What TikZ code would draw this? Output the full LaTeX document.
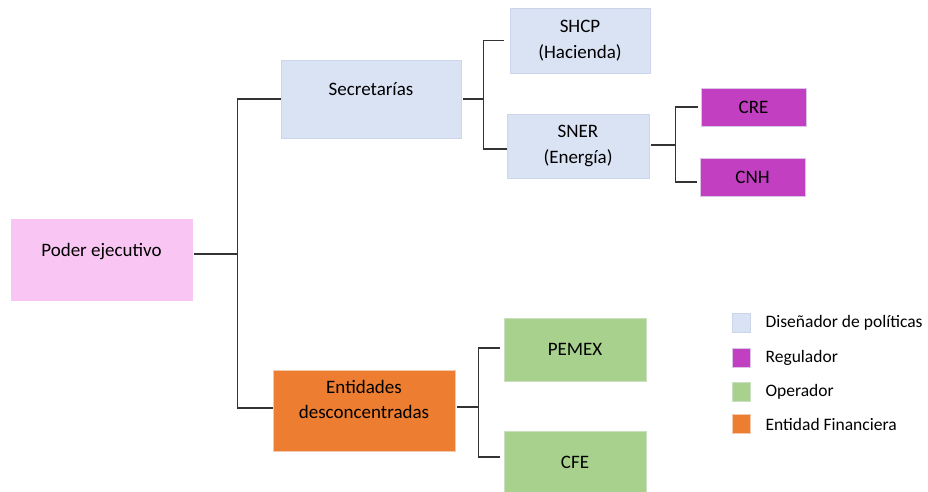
\documentclass[tikz,border=0pt]{standalone}
\usepackage{fontspec}
\setmainfont{Carlito}
\usepackage{tikz}
\usetikzlibrary{positioning,calc}
\definecolor{palDesign}{HTML}{DAE3F3}
\definecolor{palDesignBd}{HTML}{CCD6EA}
\definecolor{palReg}{HTML}{C13FC0}
\definecolor{palRegBd}{HTML}{D9C6E6}
\definecolor{palOper}{HTML}{A9D18E}
\definecolor{palOperBd}{HTML}{C9DFC0}
\definecolor{palFin}{HTML}{ED7D31}
\definecolor{palFinBd}{HTML}{F2C9AE}
\definecolor{palExec}{HTML}{F9C6F3}
\definecolor{palLine}{HTML}{333333}
\tikzset{
  orgbox/.style={draw, line width=0.8pt, align=center, inner sep=2pt,
                 font=\fontsize{19}{25.5}\selectfont},
  designbox/.style={orgbox, fill=palDesign, draw=palDesignBd},
  regbox/.style={orgbox, fill=palReg, draw=palRegBd},
  operbox/.style={orgbox, fill=palOper, draw=palOperBd},
  finbox/.style={orgbox, fill=palFin, draw=palFinBd},
  execbox/.style={orgbox, fill=palExec, draw=palExec},
  keybox/.style={draw, line width=0.8pt, minimum width=18pt, minimum height=19pt,
                 inner sep=0pt},
  keylabel/.style={anchor=west, inner sep=0pt, font=\fontsize{17.5}{21}\selectfont},
  link/.style={line width=1.2pt, palLine},
}
\begin{document}
\begin{tikzpicture}[x=1pt, y=-1pt]
\useasboundingbox (0,0) rectangle (928,491);

%% Boxes
\node[execbox, minimum width=181pt, minimum height=81pt, text depth=19pt] (poder) at (101.5,259.5) {Poder ejecutivo};
\node[designbox, minimum width=180pt, minimum height=78pt, text depth=20pt] (secre) at (371,99) {Secretarías};
\node[finbox, minimum width=182pt, minimum height=81pt, text depth=22pt] (entid) at (364,410.5) {Entidades\\desconcentradas};
\node[designbox, minimum width=140pt, minimum height=65pt] (shcp) at (580,40.5) {SHCP\\(Hacienda)};
\node[designbox, minimum width=142pt, minimum height=64pt] (sner) at (578,146) {SNER\\(Energía)};
\node[regbox, minimum width=105pt, minimum height=38pt] (cre) at (753.5,107) {CRE};
\node[regbox, minimum width=105pt, minimum height=38pt] (cnh) at (752.5,177) {CNH};
\node[operbox, minimum width=142pt, minimum height=63pt] (pemex) at (575,349.5) {PEMEX};
\node[operbox, minimum width=142pt, minimum height=62pt] (cfe) at (575,462) {CFE};

%% Connectors (elbows through a junction)
\draw[link, shorten <=2pt] ([yshift=5.5pt]poder.east) -- ++(45,0) coordinate (jPoder);
\draw[link] (jPoder) |- (secre.west);
\draw[link] (jPoder) |- ([yshift=2.5pt]entid.west);

\draw[link, shorten <=2pt] (secre.east) -- ++(22,0) coordinate (jSecre);
\draw[link, shorten >=6pt] (jSecre) |- (shcp.west);
\draw[link] (jSecre) |- ([yshift=-3pt]sner.west);

\draw[link, shorten <=2pt] ([yshift=1pt]sner.east) -- ++(26,0) coordinate (jSner);
\draw[link, shorten >=3pt] (jSner) |- (cre.west);
\draw[link, shorten >=3pt] (jSner) |- ([yshift=-5pt]cnh.west);

\draw[link, shorten <=2pt] ([yshift=3.5pt]entid.east) -- ++(23,0) coordinate (jEntid);
\draw[link, shorten >=4pt] (jEntid) |- ([yshift=1.5pt]pemex.west);
\draw[link, shorten >=4pt] (jEntid) |- ([yshift=5pt]cfe.west);

%% Legend
\foreach \idx/\yk/\fillc/\drawc/\txt in {
  0/323/palDesign/palDesignBd/Diseñador de políticas,
  1/358/palReg/palRegBd/Regulador,
  2/391.5/palOper/palOperBd/Operador,
  3/424/palFin/palFinBd/Entidad Financiera%
} {
  \node[keybox, fill=\fillc, draw=\drawc] (key\idx) at (741,\yk) {};
  \node[keylabel, right=15pt of key\idx] (keytxt\idx) {\txt};
}
\end{tikzpicture}
\end{document}
